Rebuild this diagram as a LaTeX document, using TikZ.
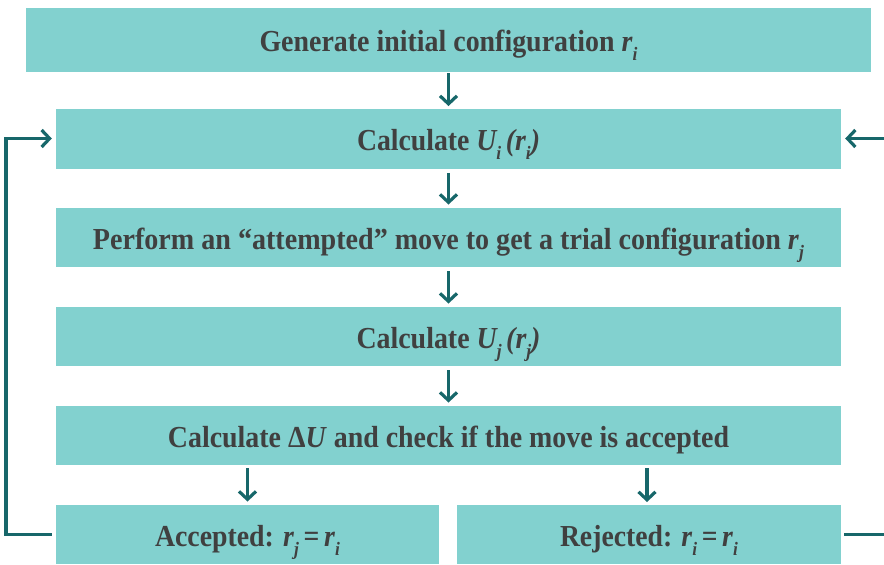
\documentclass[tikz,border=0pt]{standalone}
\usepackage{fontspec}
\setmainfont{Liberation Serif}
\usepackage{graphicx}
\usetikzlibrary{arrows.meta,calc}

\definecolor{boxfill}{HTML}{82D1CF}
\definecolor{flowline}{HTML}{17676A}
\definecolor{labeltext}{HTML}{404040}

% italic subscript set below the baseline
\newcommand\sbx[1]{\raisebox{-0.3em}{\fontsize{19}{19}\selectfont\textit{#1}}}
% label stretched/condensed to a given width
\newcommand\fitw[2]{\resizebox{#1pt}{\height}{#2}}

\tikzset{
  stage/.style={draw=none, fill=boxfill, inner sep=0pt, minimum height=59.5pt,
    text height=23pt, text depth=0pt,
    text=labeltext, font=\fontsize{30.5}{33}\selectfont\bfseries},
  flow/.style={draw=flowline, line width=3.2pt,
    -{Straight Barb[length=8pt,width=17pt,line width=3.2pt]}},
  link/.style={draw=flowline, line width=3.2pt}
}

\begin{document}
\begin{tikzpicture}[x=1pt,y=-1pt]
\useasboundingbox (0,0) rectangle (884,565);

\node[stage, minimum width=845pt, minimum height=64pt] (gen) at (448.5,40)
  {\fitw{378}{Generate initial configuration \textit{r}\sbx{i}}};
\node[stage, minimum width=785pt] (ui) at (448.5,139)
  {\fitw{183}{Calculate \textit{U\sbx{i}\,(r\sbx{i})}}};
\node[stage, minimum width=785pt] (trial) at (448.5,237.5)
  {\fitw{711}{Perform an “attempted” move to get a trial configuration \textit{r}\sbx{j}}};
\node[stage, minimum width=785pt] (uj) at (448.5,336.5)
  {\fitw{184}{Calculate \textit{U\sbx{j}\,(r\sbx{j})}}};
\node[stage, minimum width=785pt] (check) at (448.5,435.5)
  {\fitw{561}{Calculate Δ\textit{U} and check if the move is accepted}};
\node[stage, minimum width=383pt] (acc) at (247.5,534.5)
  {\fitw{185}{Accepted: \textit{r}\sbx{j}\,=\,\textit{r}\sbx{i}}};
\node[stage, minimum width=384pt] (rej) at (649,534.5)
  {\fitw{178}{Rejected: \textit{r}\sbx{i}\,=\,\textit{r}\sbx{i}}};

\coordinate (leftrail) at (6,0);
\coordinate (rightedge) at (884,0);

% main sequence
\draw[flow, shorten <=1pt, shorten >=3pt] (gen.south) -- (ui.north);
\draw[flow, shorten <=4pt, shorten >=3pt] (ui.south) -- (trial.north);
\draw[flow, shorten <=4pt, shorten >=3pt] (trial.south) -- (uj.north);
\draw[flow, shorten <=4pt, shorten >=3pt] (uj.south) -- (check.north);
\draw[flow, shorten <=3pt, shorten >=3pt] (check.south -| acc) -- (acc.north);
\draw[flow, shorten <=3pt, shorten >=3pt] (check.south -| 647,0) -- (647,505);

% loop back from the accepted branch
\draw[flow, shorten <=4pt, shorten >=4pt] (acc.west) -- (acc.west -| leftrail)
  -- ([yshift=0.5pt]ui.west -| leftrail) -- ([yshift=0.5pt]ui.west);

% loop back from the rejected branch
\draw[link, shorten <=3pt] (rej.east) -- (rej.east -| rightedge);
\draw[flow, shorten >=4pt] ([yshift=0.5pt]ui.east -| rightedge) -- ([yshift=0.5pt]ui.east);
\end{tikzpicture}
\end{document}
